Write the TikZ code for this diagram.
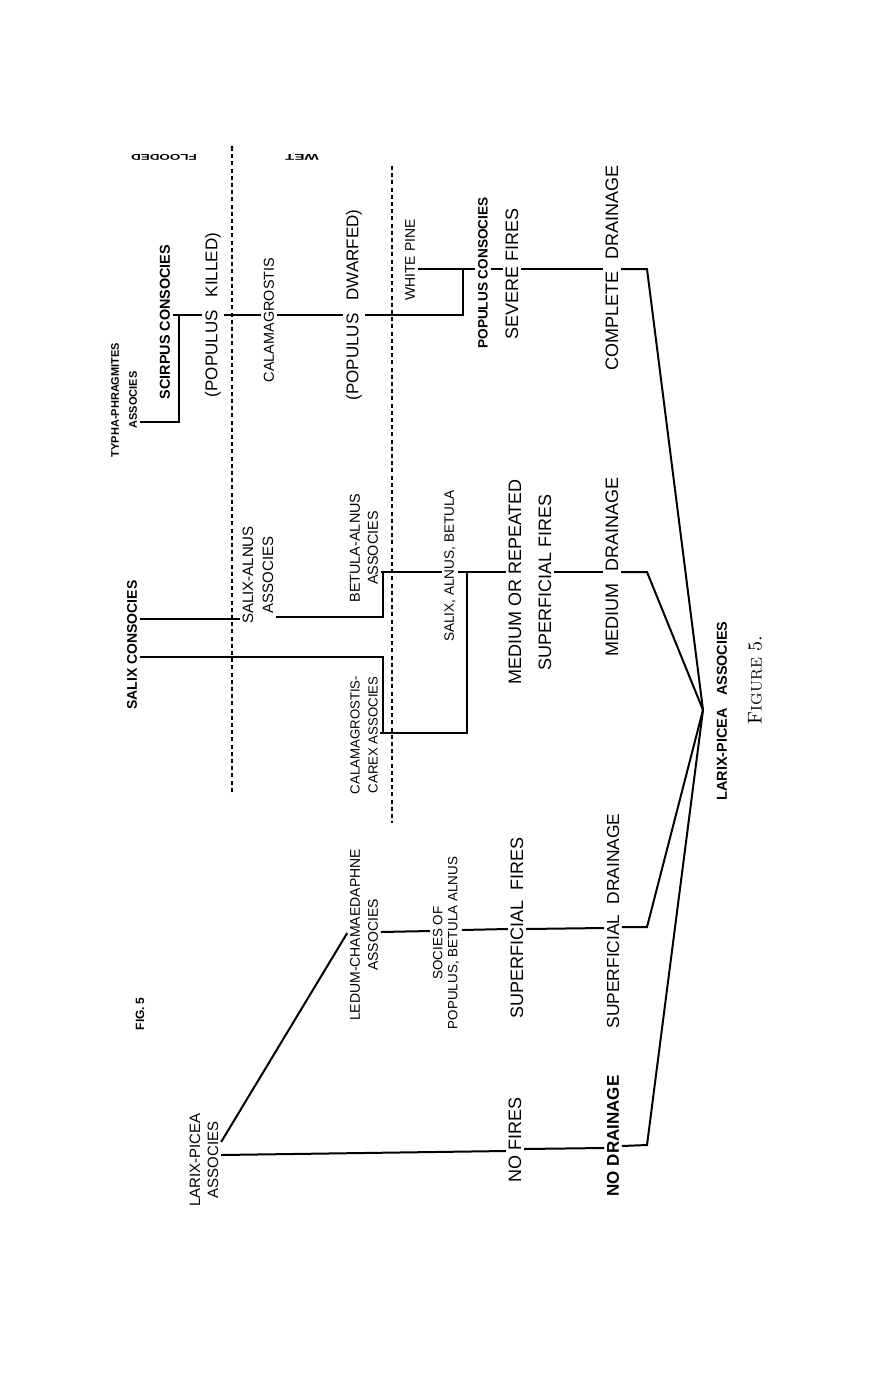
\documentclass[tikz,border=0pt]{standalone}
\usepackage{fontspec}
\usepackage{tikz}
\newfontfamily\lett{Liberation Sans}
\tikzset{
  lab/.style 2 args={rotate=90, inner sep=1.2pt, align=center, font=\lett\fontsize{#1}{#2}\selectfont},
  blab/.style 2 args={rotate=90, inner sep=1.2pt, align=center, font=\lett\bfseries\fontsize{#1}{#2}\selectfont},
  zone/.style={rotate=180, inner sep=1pt, font=\lett\bfseries\fontsize{4.2}{5}\selectfont},
  link/.style={line width=1pt},
  limit/.style={line width=0.7pt, dash pattern=on 2pt off 1.6pt},
}

\begin{document}
\begin{tikzpicture}[x=0.5pt, y=-0.5pt]
  \useasboundingbox (0,0) rectangle (878,1380);

  % limits of the wet and flooded ground
  \draw[limit] (232,147) -- (232,795);
  \fill (232,147) circle (0.8pt);
  \draw[limit] (392,166) -- (392,823);
  \node[zone, xscale=1.6] (flooded) at (164,157) {FLOODED};
  \node[zone, xscale=1.8] (wet) at (302,157) {WET};

  % complete drainage
  \node[blab={5.5}{9}] (typha) at (124,400) {TYPHA-PHRAGMITES\\ASSOCIES};
  \node[blab={7.2}{9}] (scirpus) at (165,322) {SCIRPUS CONSOCIES};
  \node[lab={8.5}{10}] (killed) at (213,315) {(POPULUS\hspace{0.5em} KILLED)};
  \node[lab={7.2}{9}] (calama) at (269,320) {CALAMAGROSTIS};
  \node[lab={8.5}{10}] (dwarfed) at (354,305) {(POPULUS\hspace{0.5em} DWARFED)};
  \node[lab={7}{9}] (whitepine) at (410,260) {WHITE PINE};
  \node[blab={6.8}{9}] (popcons) at (483,273) {POPULUS CONSOCIES};
  \node[lab={9}{11}] (severe) at (512,274) {SEVERE FIRES};
  \node[lab={9}{11}] (complete) at (612,268) {COMPLETE\hspace{0.4em} DRAINAGE};

  \coordinate (apex) at (703,710);
  \coordinate (scj) at (179,315);
  \coordinate (wpj) at (463,315);

  \draw[link] (typha.south |- 0,422) -- (scj |- 0,422) -- (scj); % typha -> scirpus
  \draw[link] (scirpus.south |- scj) -- (killed.north |- scj);
  \draw[link] (killed.south |- scj) -- (calama.north |- scj);
  \draw[link] (calama.south |- scj) -- (dwarfed.north |- scj);
  \draw[link] (dwarfed.south |- wpj) -- (wpj) -- (wpj |- 0,269);
  \draw[link] (whitepine.south |- 0,269) -- (popcons.north |- 0,269);
  \draw[link] (popcons.south |- 0,269) -- (severe.north |- 0,269);
  \draw[link] (severe.south |- 0,269) -- (complete.north |- 0,269);
  \draw[link] (complete.south |- 0,269) -- (647,269) -- (apex);

  % medium drainage
  \node[blab={7}{9}] (salixcons) at (132,645) {SALIX CONSOCIES};
  \node[lab={7.5}{10}] (salixalnus) at (258,575) {SALIX-ALNUS\\ASSOCIES};
  \node[lab={7.2}{9}] (betula) at (364,548) {BETULA-ALNUS\\ASSOCIES};
  \node[lab={6.6}{9}] (calcarex) at (364,735) {CALAMAGROSTIS-\\CAREX ASSOCIES};
  \node[lab={6.8}{9}] (salixsoc) at (450,566) {SALIX, ALNUS, BETULA};
  \node[lab={9}{15}] (medrep) at (530,582) {MEDIUM OR REPEATED\\SUPERFICIAL FIRES};
  \node[lab={9}{11}] (meddrain) at (612,567) {MEDIUM\hspace{0.4em} DRAINAGE};

  \coordinate (bj) at (383,572);
  \coordinate (cj) at (383,733);
  \coordinate (sj) at (467,572);

  \draw[link] (salixcons.south |- 0,619) -- (salixalnus.north |- 0,619);
  \draw[link] (salixalnus.south |- 0,617) -- (bj |- 0,617) -- (bj);
  \draw[link] (salixcons.south |- 0,657) -- (cj |- 0,657) -- (cj);
  \draw[link] (calcarex.south |- cj) -- (cj -| sj) -- (sj);
  \draw[link] (betula.south |- bj) -- (salixsoc.north |- bj);
  \draw[link] (salixsoc.south |- bj) -- (medrep.north |- bj);
  \draw[link] (medrep.south |- bj) -- (meddrain.north |- bj);
  \draw[link] (meddrain.south |- bj) -- (647,572) -- (apex);

  % superficial and no drainage
  \node[lab={7.5}{9}] (larix) at (204,1160) {LARIX-PICEA\\ASSOCIES};
  \node[lab={7}{9}] (ledum) at (364,935) {LEDUM-CHAMAEDAPHNE\\ASSOCIES};
  \node[lab={6.7}{7.5}] (socies) at (446,943) {SOCIES OF\\POPULUS, BETULA ALNUS};
  \node[lab={9}{11}] (supfires) at (517,928) {SUPERFICIAL\hspace{0.3em} FIRES};
  \node[lab={8.7}{11}] (supdrain) at (613,921) {SUPERFICIAL\hspace{0.3em} DRAINAGE};
  \node[lab={9}{11}] (nofires) at (515,1140) {NO FIRES};
  \node[blab={8.5}{11}] (nodrain) at (613,1136) {NO DRAINAGE};

  \draw[link] (larix.south |- 0,1142) -- (ledum.north |- 0,933);
  \draw[link] (ledum.south |- 0,932) -- (socies.north |- 0,931);
  \draw[link] (socies.south |- 0,930) -- (supfires.north |- 0,929);
  \draw[link] (supfires.south |- 0,929) -- (supdrain.north |- 0,928);
  \draw[link] (supdrain.south |- 0,927) -- (647,927) -- (apex);
  \draw[link] (larix.south |- 0,1155) -- (nofires.north |- 0,1151);
  \draw[link] (nofires.south |- 0,1149) -- (nodrain.north |- 0,1148);
  \draw[link] (nodrain.south |- 0,1146) -- (647,1145) -- (apex);

  % captions
  \node[blab={7.2}{9}] (caption) at (722,711) {LARIX-PICEA\hspace{0.6em} ASSOCIES};
  \node[rotate=90, inner sep=0pt] (figcap) at (755,680) {{\fontsize{10}{12}\selectfont F}{\fontsize{7.6}{12}\selectfont IGURE} {\fontsize{10}{12}\selectfont 5.}};
  \node[blab={6}{8}] (figno) at (140,1014) {FIG.\,5};

\end{tikzpicture}
\end{document}
